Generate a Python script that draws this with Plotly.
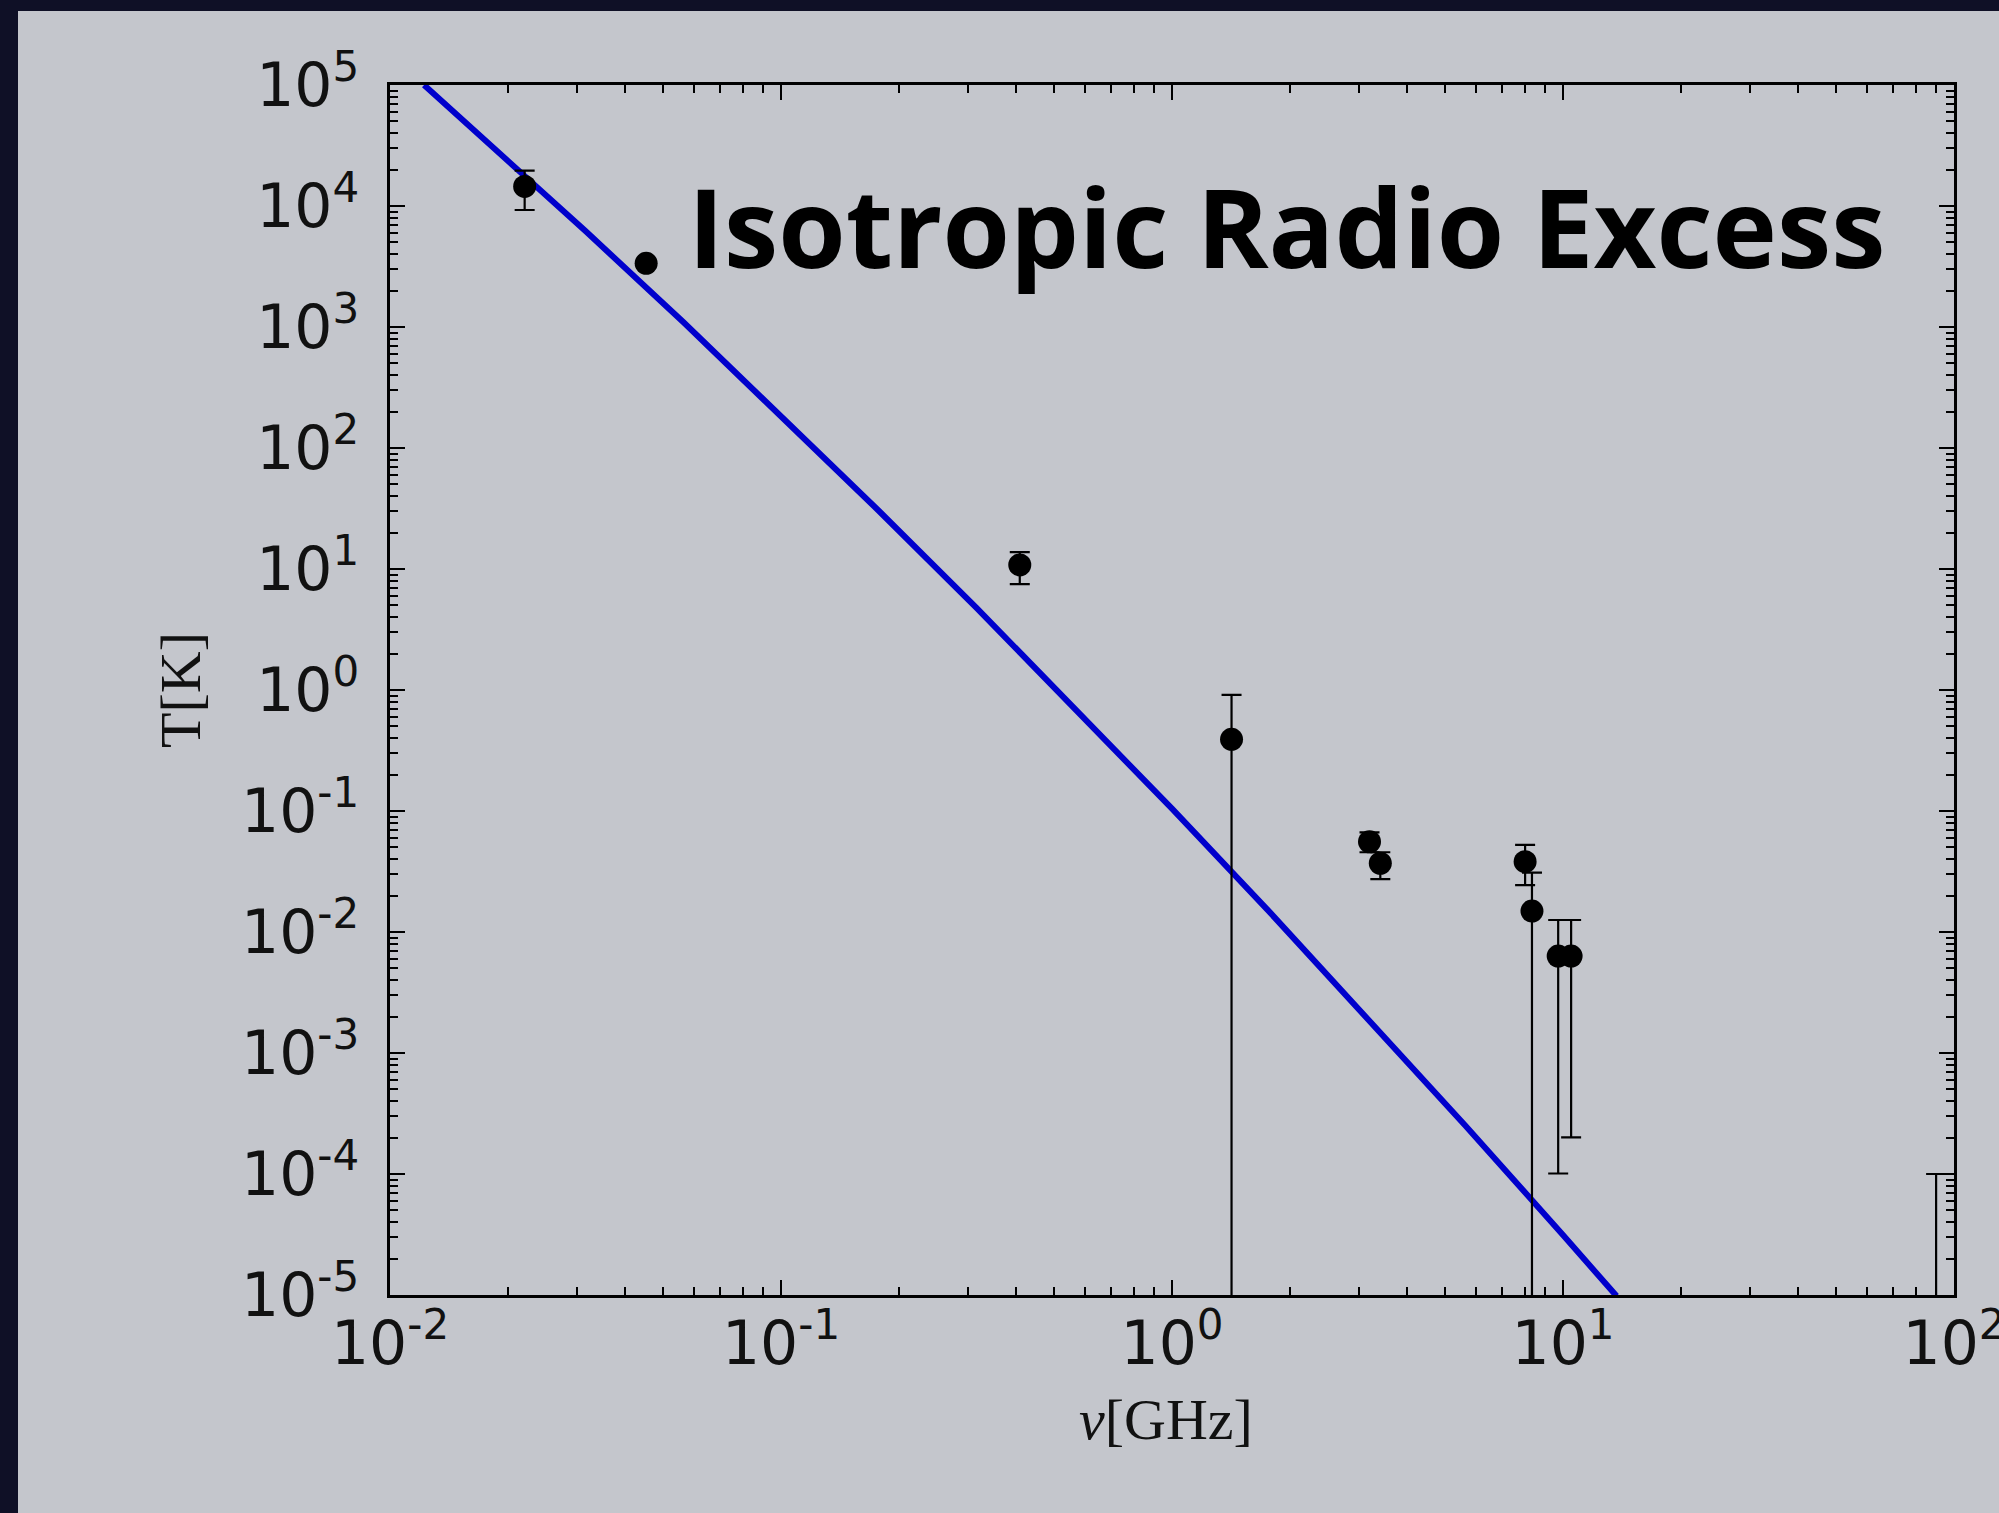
import plotly.graph_objects as go

# Measured sky temperature excess vs frequency
freq_ghz = [0.0221, 0.0452, 0.408, 1.42, 3.20, 3.41, 8.0, 8.33, 9.72, 10.49, 90.0]
temp_k = [1.45e4, 3.36e3, 10.8, 0.391, 0.0557, 0.0370, 0.0381, 0.0149, 0.00633, 0.00633, 5.0e-6]
err_hi = [1.96e4, 3.6e3, 13.8, 0.912, 0.0667, 0.0456, 0.0524, 0.0309, 0.01256, 0.01256, 1.0e-4]
err_lo = [9.27e3, 3.1e3, 7.5, 1e-7, 0.0456, 0.0273, 0.0244, 1e-7, 1.01e-4, 2.01e-4, 1e-7]

# Model curve (frequency in GHz, temperature in K)
model_freq = [0.01222, 0.01778, 0.03162, 0.05623, 0.1, 0.1778, 0.3162, 0.5623,
              1.0, 1.778, 3.162, 5.623, 10.0, 13.71]
model_temp = [1.0e5, 3.38e4, 6.21e3, 1.10e3, 186.0, 30.3, 4.78, 0.719,
              0.1045, 0.01459, 1.95e-3, 2.52e-4, 3.13e-5, 9.8e-6]

x_tickvals = [1e-2, 1e-1, 1e0, 1e1, 1e2]
x_ticktext = ["10<sup>-2</sup>", "10<sup>-1</sup>", "10<sup>0</sup>", "10<sup>1</sup>", "10<sup>2</sup>"]
y_tickvals = [10.0 ** e for e in range(-5, 6)]
y_ticktext = ["10<sup>%d</sup>" % e for e in range(-5, 6)]

x_minor = [m * 10.0 ** e for e in range(-2, 2) for m in range(2, 10)]
y_minor = [m * 10.0 ** e for e in range(-5, 5) for m in range(2, 10)]

plus = [h - t for h, t in zip(err_hi, temp_k)]
minus = [t - l for t, l in zip(temp_k, err_lo)]

fig = go.Figure()

fig.add_trace(go.Scatter(
    x=model_freq, y=model_temp, mode="lines",
    line=dict(color="#0000cc", width=6),
    showlegend=False, hoverinfo="skip",
))

fig.add_trace(go.Scatter(
    x=freq_ghz, y=temp_k, mode="markers",
    marker=dict(color="black", size=23),
    error_y=dict(type="data", symmetric=False, array=plus, arrayminus=minus,
                 color="black", thickness=2.2, width=10),
    showlegend=False,
))

axis_common = dict(
    type="log", showgrid=False, zeroline=False, automargin=False,
    showline=True, linecolor="black", linewidth=2.5, mirror="allticks",
    ticks="inside", ticklen=15, tickwidth=2, tickcolor="black",
    ticklabeloverflow="allow",
    tickfont=dict(family="DejaVu Sans", size=60, color="#111111"),
)

fig.update_xaxes(
    **axis_common, range=[-2, 2],
    tickvals=x_tickvals, ticktext=x_ticktext,
    minor=dict(tickvals=x_minor, ticks="inside", ticklen=8, tickwidth=1.5, tickcolor="black"),
    domain=[390 / 1999, 1954 / 1999],
    ticklabelstandoff=-6,
)
fig.update_yaxes(
    **axis_common, range=[-5, 5],
    tickvals=y_tickvals, ticktext=y_ticktext,
    minor=dict(tickvals=y_minor, ticks="inside", ticklen=8, tickwidth=1.5, tickcolor="black"),
    domain=[1 - 1295 / 1513, 1 - 85 / 1513],
    ticklabelstandoff=16,
    title=dict(text="T[K]", font=dict(family="Liberation Serif", size=58, color="#111111"), standoff=22),
)

# Frequency axis label
fig.add_annotation(
    text="<i>ν</i>[GHz]", xref="paper", yref="paper",
    x=1166 / 1999, y=1 - 1419 / 1513, xanchor="center", yanchor="middle",
    showarrow=False, font=dict(family="Liberation Serif", size=58, color="#111111"),
)

fig.add_annotation(
    text="<b>Isotropic Radio Excess</b>", xref="paper", yref="paper",
    x=686 / 1999, y=1 - 225 / 1513, xanchor="left", yanchor="middle",
    showarrow=False, font=dict(family="Open Sans", size=109, color="black"),
)

# Light slide panel over the dark backdrop
fig.add_shape(type="rect", xref="paper", yref="paper", x0=18 / 1999, x1=1.0, y0=0.0, y1=1 - 11 / 1513,
              fillcolor="#c4c6cc", line=dict(width=0), layer="below")

fig.update_layout(
    width=1999, height=1513,
    margin=dict(l=0, r=0, t=0, b=0),
    paper_bgcolor="#0f1026", plot_bgcolor="rgba(0,0,0,0)",
)

fig.write_html("out.html")
